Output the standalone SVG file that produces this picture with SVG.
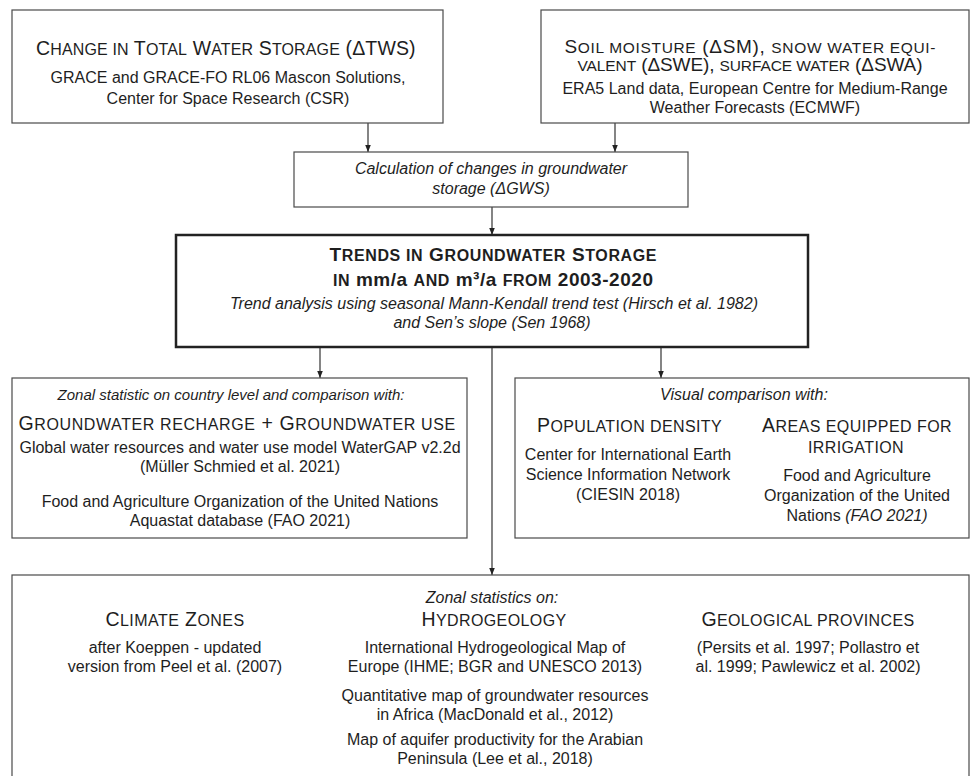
<svg xmlns="http://www.w3.org/2000/svg" width="970" height="776" viewBox="0 0 970 776">
<defs>
<style>
.box{fill:#fff;stroke:#4a4a4a;stroke-width:1.2}
.main{fill:#fff;stroke:#222;stroke-width:2.5}
text{font-family:"Liberation Sans",Arial,sans-serif;fill:#1e1e1e;text-anchor:middle}
.b{font-size:16px}
.i{font-size:16px;font-style:italic}
.i15{font-size:15px;font-style:italic}
.h{font-size:19.5px;letter-spacing:0.4px}
.h .s,.s{font-size:16px}
.h2{font-size:19px}
.h2 .s{font-size:15.5px}
.hb{font-size:19px;font-weight:bold}
.hb .s{font-size:16px}
.c{stroke:#333;stroke-width:1.2;fill:none;marker-end:url(#ah)}
</style>
<marker id="ah" markerWidth="8" markerHeight="8" refX="7" refY="4" orient="auto" markerUnits="userSpaceOnUse">
<path d="M0,1.2 L7,4 L0,6.8 Z" fill="#222"/>
</marker>
</defs>
<rect width="970" height="776" fill="#fff"/>

<g id="connectors">
<path class="c" d="M368,123 V152"/>
<path class="c" d="M615,123 V152"/>
<path class="c" d="M492,207 V235"/>
<path class="c" d="M320,348 V378"/>
<path class="c" d="M661,348 V378"/>
<path class="c" d="M492,348 V575"/>
</g>

<g id="tws">
<rect class="box" x="12" y="10" width="431" height="113"/>
<text class="h" x="226" y="55" textLength="380">C<tspan class="s">HANGE IN</tspan> T<tspan class="s">OTAL</tspan> W<tspan class="s">ATER</tspan> S<tspan class="s">TORAGE</tspan> (ΔTWS)</text>
<text class="b" x="228" y="83">GRACE and GRACE-FO RL06 Mascon Solutions,</text>
<text class="b" x="228" y="104">Center for Space Research (CSR)</text>
</g>

<g id="era5">
<rect class="box" x="541" y="10" width="428" height="113"/>
<text class="h2" x="750" y="53" textLength="371">S<tspan class="s">OIL MOISTURE</tspan> (ΔSM), <tspan class="s">SNOW WATER EQUI-</tspan></text>
<text class="h2" x="750" y="71" textLength="345"><tspan class="s">VALENT</tspan> (ΔSWE), <tspan class="s">SURFACE WATER</tspan> (ΔSWA)</text>
<text class="b" x="755" y="94">ERA5 Land data, European Centre for Medium-Range</text>
<text class="b" x="755" y="113">Weather Forecasts (ECMWF)</text>
</g>

<g id="calc">
<rect class="box" x="294" y="152" width="394" height="55"/>
<text class="i" x="491" y="174">Calculation of changes in groundwater</text>
<text class="i" x="491" y="194">storage (ΔGWS)</text>
</g>

<g id="trends">
<rect class="main" x="176" y="235" width="632" height="112"/>
<text class="hb" x="493" y="261" textLength="327">T<tspan class="s">RENDS IN</tspan> G<tspan class="s">ROUNDWATER</tspan> S<tspan class="s">TORAGE</tspan></text>
<text class="hb" x="493" y="286" textLength="320"><tspan class="s">IN</tspan> mm/a <tspan class="s">AND</tspan> m³/a <tspan class="s">FROM</tspan> 2003-2020</text>
<text class="i" x="494" y="309">Trend analysis using seasonal Mann-Kendall trend test (Hirsch et al. 1982)</text>
<text class="i" x="492" y="328">and Sen’s slope (Sen 1968)</text>
</g>

<g id="zonal-country">
<rect class="box" x="12" y="378" width="455" height="160"/>
<text class="i15" x="231" y="400">Zonal statistic on country level and comparison with:</text>
<text class="h" x="237" y="430" textLength="437">G<tspan class="s">ROUNDWATER RECHARGE</tspan> + G<tspan class="s">ROUNDWATER USE</tspan></text>
<text class="b" x="240" y="453">Global water resources and water use model WaterGAP v2.2d</text>
<text class="b" x="240" y="472">(Müller Schmied et al. 2021)</text>
<text class="b" x="240" y="507">Food and Agriculture Organization of the United Nations</text>
<text class="b" x="240" y="526">Aquastat database (FAO 2021)</text>
</g>

<g id="visual">
<rect class="box" x="515" y="378" width="454" height="160"/>
<text class="i" x="744" y="400">Visual comparison with:</text>
<text class="h" x="629.5" y="432" textLength="185">P<tspan class="s">OPULATION DENSITY</tspan></text>
<text class="b" x="628" y="460">Center for International Earth</text>
<text class="b" x="628" y="480">Science Information Network</text>
<text class="b" x="628" y="500">(CIESIN 2018)</text>
<text class="h" x="857" y="432" textLength="190">A<tspan class="s">REAS EQUIPPED FOR</tspan></text>
<text class="h" x="856" y="453"><tspan class="s">IRRIGATION</tspan></text>
<text class="b" x="857" y="481">Food and Agriculture</text>
<text class="b" x="857" y="501">Organization of the United</text>
<text class="b" x="857" y="521">Nations <tspan font-style="italic">(FAO 2021)</tspan></text>
</g>

<g id="zonal-stats">
<rect class="box" x="12" y="575" width="957" height="210"/>
<text class="i" x="492" y="603">Zonal statistics on:</text>
<text class="h" x="175" y="626" textLength="139">C<tspan class="s">LIMATE</tspan> Z<tspan class="s">ONES</tspan></text>
<text class="b" x="175" y="653">after Koeppen - updated</text>
<text class="b" x="175" y="672">version from Peel et al. (2007)</text>
<text class="h" x="494" y="626">H<tspan class="s">YDROGEOLOGY</tspan></text>
<text class="b" x="495" y="653">International Hydrogeological Map of</text>
<text class="b" x="495" y="672">Europe (IHME; BGR and UNESCO 2013)</text>
<text class="b" x="495" y="701">Quantitative map of groundwater resources</text>
<text class="b" x="495" y="720">in Africa (MacDonald et al., 2012)</text>
<text class="b" x="495" y="745">Map of aquifer productivity for the Arabian</text>
<text class="b" x="495" y="764">Peninsula (Lee et al., 2018)</text>
<text class="h" x="808" y="626" textLength="213">G<tspan class="s">EOLOGICAL PROVINCES</tspan></text>
<text class="b" x="808" y="653">(Persits et al. 1997; Pollastro et</text>
<text class="b" x="808" y="672">al. 1999; Pawlewicz et al. 2002)</text>
</g>
</svg>
